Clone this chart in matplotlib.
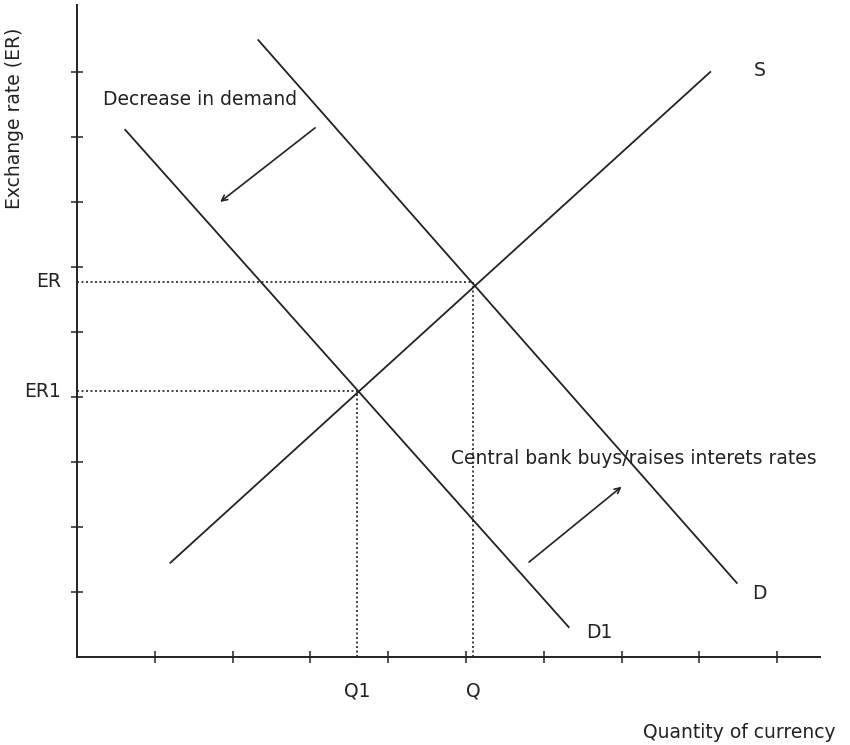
# exchange rate diagram: fall in demand for currency, central bank response

import matplotlib.pyplot as plt

# curve end points (quantity, exchange rate)
supply_q = [1.20, 8.14]
supply_er = [1.45, 9.00]
demand_q = [2.33, 8.48]
demand_er = [9.49, 1.14]
demand1_q = [0.62, 6.32]
demand1_er = [8.11, 0.46]

# equilibrium points
eq_q = [5.09, 3.60]
eq_er = [5.77, 4.09]
eq_q_labels = ["Q", "Q1"]
eq_er_labels = ["ER", "ER1"]

# shift arrows (start, end)
decrease_arrow = [(3.06, 8.14), (1.84, 7.00)]
bank_arrow = [(5.81, 1.46), (7.00, 2.62)]

ticks = [1, 2, 3, 4, 5, 6, 7, 8, 9]

ink = "#222222"
fs = 13.5

fig = plt.figure(figsize=(8.5, 7.45), dpi=100)
ax = fig.add_axes([77 / 850, 88 / 745, 743 / 850, 652 / 745])
ax.set_xlim(0, 9.55)
ax.set_ylim(0, 10.03)

for side in ["top", "right"]:
    ax.spines[side].set_visible(False)
for side in ["left", "bottom"]:
    ax.spines[side].set_color(ink)
    ax.spines[side].set_linewidth(1.4)

ax.set_xticks(ticks)
ax.set_yticks(ticks)
ax.set_xticklabels([])
ax.set_yticklabels([])
ax.tick_params(direction="inout", length=8, width=1.1, color=ink)

# curves
ax.plot(supply_q, supply_er, color=ink, lw=1.3)
ax.plot(demand_q, demand_er, color=ink, lw=1.3)
ax.plot(demand1_q, demand1_er, color=ink, lw=1.3)

# dotted guide lines and labels
for q, er, ql, erl in zip(eq_q, eq_er, eq_q_labels, eq_er_labels):
    ax.plot([0, q], [er, er], color=ink, lw=1.2, ls=(0, (1.2, 1.5)))
    ax.plot([q, q], [0, er], color=ink, lw=1.2, ls=(0, (1.2, 1.5)))
    ax.text(-0.2, er, erl, ha="right", va="center", fontsize=fs, color=ink,
            clip_on=False)
    ax.text(q, -0.53, ql, ha="center", va="center", fontsize=fs, color=ink,
            clip_on=False)

# curve labels
ax.text(8.78, 9.03, "S", ha="center", va="center", fontsize=fs, color=ink)
ax.text(8.77, 0.97, "D", ha="center", va="center", fontsize=fs, color=ink)
ax.text(6.71, 0.37, "D1", ha="center", va="center", fontsize=fs, color=ink)

# arrows and notes
for start, end in [decrease_arrow, bank_arrow]:
    ax.annotate("", xy=end, xytext=start,
                arrowprops=dict(arrowstyle="->", color=ink, lw=1.2,
                                shrinkA=0, shrinkB=0))
ax.text(0.33, 8.57, "Decrease in demand", ha="left", va="center",
        fontsize=fs, color=ink)
ax.text(4.81, 3.06, "Central bank buys/raises interets rates", ha="left",
        va="center", fontsize=fs, color=ink)

# axis titles
fig.text(836 / 850, 1 - 732 / 745, "Quantity of currency", ha="right",
         va="center", fontsize=fs, color=ink)
fig.text(15 / 850, 1 - 118 / 745, "Exchange rate (ER)", ha="center",
         va="center", rotation=90, fontsize=fs, color=ink)

fig.savefig("out.png", dpi=100, facecolor="white")
